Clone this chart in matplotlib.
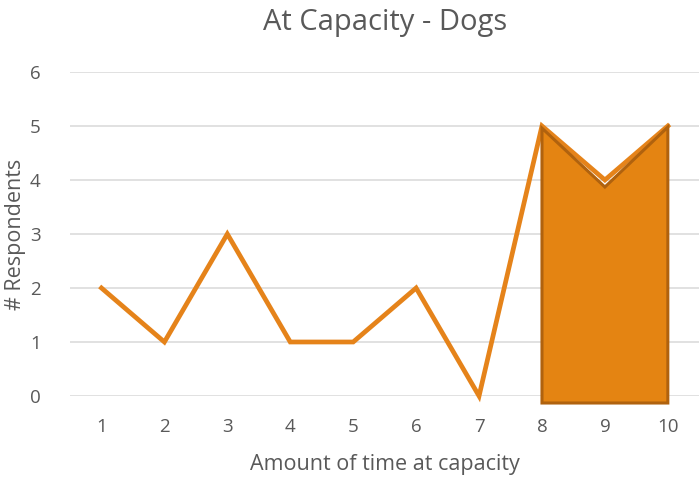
import numpy as np
import matplotlib.pyplot as plt

plt.rcParams['font.family'] = ['Open Sans', 'DejaVu Sans']

# data
categories = ['1', '2', '3', '4', '5', '6', '7', '8', '9', '10']
respondents = [2, 1, 3, 1, 1, 2, 0, 5, 4, 5]

# hand-drawn shape over categories 8-10
shape_x = [8, 8, 9, 10, 10]
shape_y = [-0.13, 4.96, 3.87, 4.98, -0.13]

orange = '#E5831A'
grid = '#D9D9D9'
text_col = '#595959'

fig = plt.figure(figsize=(7, 4.79), dpi=100)
ax = fig.add_axes([0.1, 0.1733, 0.899, 0.6764])

x = np.arange(1, len(categories) + 1)
ax.plot(x, respondents, color=orange, linewidth=3.4, solid_joinstyle='miter', zorder=3)
ax.fill(shape_x, shape_y, facecolor='#E48412', edgecolor='#B0620E', linewidth=2.2, zorder=4)

ax.set_xlim(0.5, 10.5)
ax.set_ylim(0, 6)
ax.set_xticks(x)
ax.set_xticklabels(categories)
ax.set_yticks(range(0, 7))
ax.yaxis.grid(True, color=grid, linewidth=1.1)
ax.set_axisbelow(True)
ax.tick_params(length=0, labelsize=13.5, colors=text_col)
ax.tick_params(axis='x', pad=16)
ax.tick_params(axis='y', pad=21)
for s in ax.spines.values():
    s.set_visible(False)
for a in ax.get_children():
    try:
        a.set_clip_on(False)
    except Exception:
        pass

ax.set_title('At Capacity - Dogs', fontsize=21, color=text_col, pad=30)
ax.set_xlabel('Amount of time at capacity', fontsize=15.5, color=text_col, labelpad=13)
ax.set_ylabel('# Respondents', fontsize=15.5, color=text_col, labelpad=3)

fig.savefig('out.png', dpi=100)
